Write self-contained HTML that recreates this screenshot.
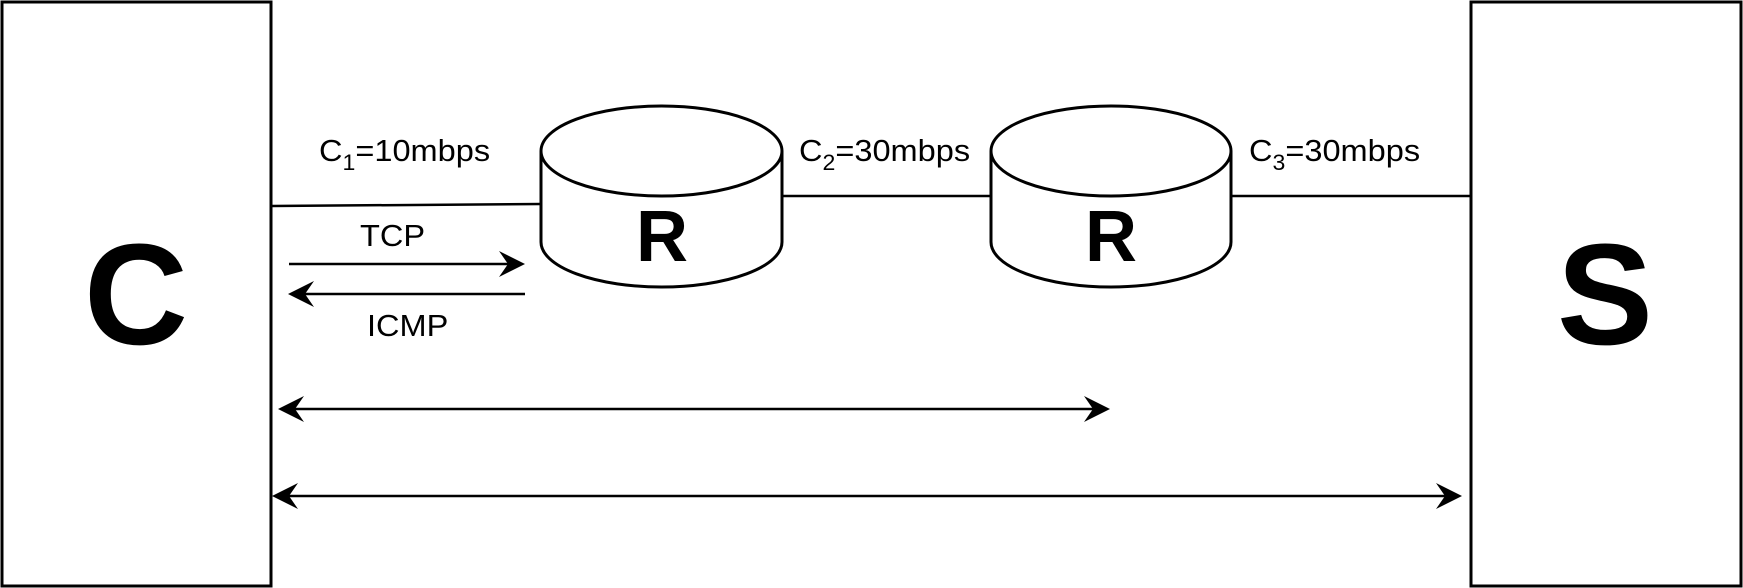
<!DOCTYPE html>
<html><head><meta charset="utf-8"><style>html,body{margin:0;padding:0;background:#fff}svg{display:block}</style></head>
<body>
<svg width="1743" height="588" viewBox="0 0 1743 588" xmlns="http://www.w3.org/2000/svg" font-family="Liberation Sans, Arial, sans-serif">
<g fill="#fff" stroke="#000" stroke-width="3">
<rect x="2" y="2" width="269" height="584"/>
<rect x="1471" y="2" width="270" height="584"/>
<path d="M541,151 L541,242 A120.5,45 0 0 0 782,242 L782,151"/>
<ellipse cx="661.5" cy="151" rx="120.5" ry="45"/>
<path d="M991,151 L991,242 A120,45 0 0 0 1231,242 L1231,151"/>
<ellipse cx="1111" cy="151" rx="120" ry="45"/>
</g>
<g stroke="#000" stroke-width="2.5" fill="none">
<line x1="272" y1="206" x2="541" y2="204"/>
<line x1="782" y1="196" x2="991" y2="196"/>
<line x1="1231" y1="196" x2="1471" y2="196"/>
<line x1="289" y1="264" x2="515" y2="264"/>
<line x1="525" y1="294" x2="298" y2="294"/>
<line x1="288" y1="409" x2="1100" y2="409"/>
<line x1="282" y1="496" x2="1452" y2="496"/>
</g>
<g fill="#000">
<polygon points="525,264 499,251 508,264 499,277"/>
<polygon points="288,294 314,281 305,294 314,307"/>
<polygon points="278,409 304,396 295,409 304,422"/>
<polygon points="1110,409 1084,396 1093,409 1084,422"/>
<polygon points="272,496 298,483 289,496 298,509"/>
<polygon points="1462,496 1436,483 1445,496 1436,509"/>
</g>
<g fill="#000" font-size="31">
<text transform="translate(319,161) scale(1.05,1)">C<tspan font-size="22" dy="9">1</tspan><tspan dy="-9">=10mbps</tspan></text>
<text transform="translate(799,161) scale(1.05,1)">C<tspan font-size="22" dy="9">2</tspan><tspan dy="-9">=30mbps</tspan></text>
<text transform="translate(1249,161) scale(1.05,1)">C<tspan font-size="22" dy="9">3</tspan><tspan dy="-9">=30mbps</tspan></text>
<text transform="translate(360,246) scale(1.05,1)">TCP</text>
<text transform="translate(367,336) scale(1.05,1)">ICMP</text>
</g>
<g fill="#000" font-weight="bold" text-anchor="middle">
<text x="136" y="344" font-size="144">C</text>
<text x="1605" y="344" font-size="144">S</text>
<text x="662" y="261" font-size="72">R</text>
<text x="1111" y="261" font-size="72">R</text>
</g>
</svg>
</body></html>
